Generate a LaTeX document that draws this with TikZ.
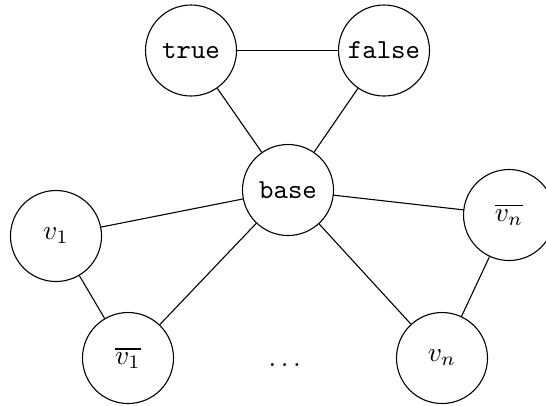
\documentclass[tikz,border=0pt]{standalone}
\usepackage{amsmath,amssymb}
\usepackage{tikz}
\usetikzlibrary{positioning}

\begin{document}
\begin{tikzpicture}[
x=0.0128cm,y=-0.0128cm,
vertex/.style={draw,circle,minimum size=1.165cm,inner sep=0pt},
edge/.style={thin}
]
\useasboundingbox (0,0) rectangle (546,405);
\node[vertex] (true) at (191,50.5) {\texttt{true}};
\node[vertex] (false) at (384,50.5) {\texttt{false}};
\node[vertex] (base) at (288,190) {\texttt{base}};
\node[vertex] (v1) at (56,236) {$v_1$};
\node[vertex] (nv1) at (128,358) {$\overline{v_1}$};
\node[vertex] (nvn) at (509,215) {$\overline{v_n}$};
\node[vertex] (vn) at (442,358) {$v_n$};
\node (dots) at (287,365) {$\dots$};
\draw[edge] (true) -- (false);
\draw[edge] (true) -- (base);
\draw[edge] (false) -- (base);
\draw[edge] (base) -- (v1);
\draw[edge] (base) -- (nv1);
\draw[edge] (base) -- (nvn);
\draw[edge] (base) -- (vn);
\draw[edge] (v1) -- (nv1);
\draw[edge] (nvn) -- (vn);
\end{tikzpicture}
\end{document}
